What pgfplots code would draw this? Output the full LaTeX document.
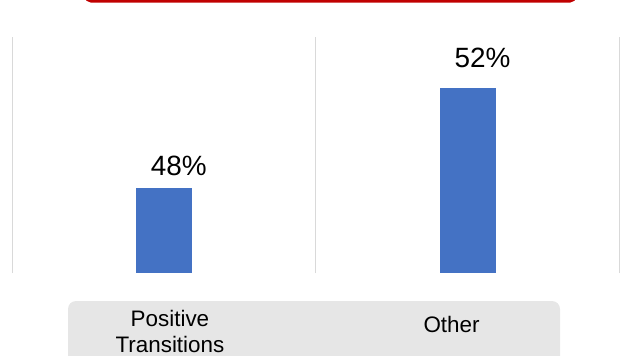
\documentclass[border=0pt]{standalone}
\usepackage{fontspec}
\setmainfont{Liberation Sans}
\usepackage{pgfplots}
\pgfplotsset{compat=1.18}
\definecolor{barblue}{HTML}{4472C4}
\definecolor{boxgray}{HTML}{E6E6E6}
\definecolor{gridgray}{HTML}{D9D9D9}
\definecolor{redline}{HTML}{C00000}
\begin{document}
\begin{tikzpicture}
\path[use as bounding box] (-12bp,-83bp) rectangle (608bp,273bp);
\clip (-12bp,-83bp) rectangle (608bp,273bp);
\fill[boxgray, rounded corners=8bp] (56bp,-110bp) rectangle (548bp,-28bp);
\draw[redline, line width=2.5bp, rounded corners=5bp] (74bp,300bp) -- (74bp,271.7bp) -- (563bp,271.7bp) -- (563bp,300bp);
\begin{axis}[
  scale only axis, width=607.5bp, height=236bp,
  xmin=-0.5, xmax=1.5, ymin=44.6, ymax=54.04,
  axis line style={draw=none},
  ytick=\empty,
  xtick={0.02,0.947},
  xticklabels={{Positive\\Transitions},{\raisebox{0pt}[\height][15bp]{Other}}},
  xticklabel style={anchor=center, yshift=-58.5bp, align=center, font=\fontsize{22.5}{26}\selectfont},
  major tick length=0pt,
  extra x ticks={-0.5,0.5,1.5},
  extra x tick labels={},
  extra x tick style={grid=major, major grid style={gridgray, line width=1bp}},
  ybar, bar width=56bp,
  nodes near coords={\pgfmathprintnumber[assume math mode=true]{\pgfplotspointmeta}\%},
  nodes near coords style={font=\fontsize{28}{32}\selectfont, anchor=base, xshift=15bp},
]
\addplot[fill=barblue, draw=none, bar shift=0pt, nodes near coords style={yshift=13bp}] coordinates {(0,48)};
\addplot[fill=barblue, draw=none, bar shift=0pt, nodes near coords style={yshift=21bp}] coordinates {(1,52)};
\end{axis}
\end{tikzpicture}
\end{document}
